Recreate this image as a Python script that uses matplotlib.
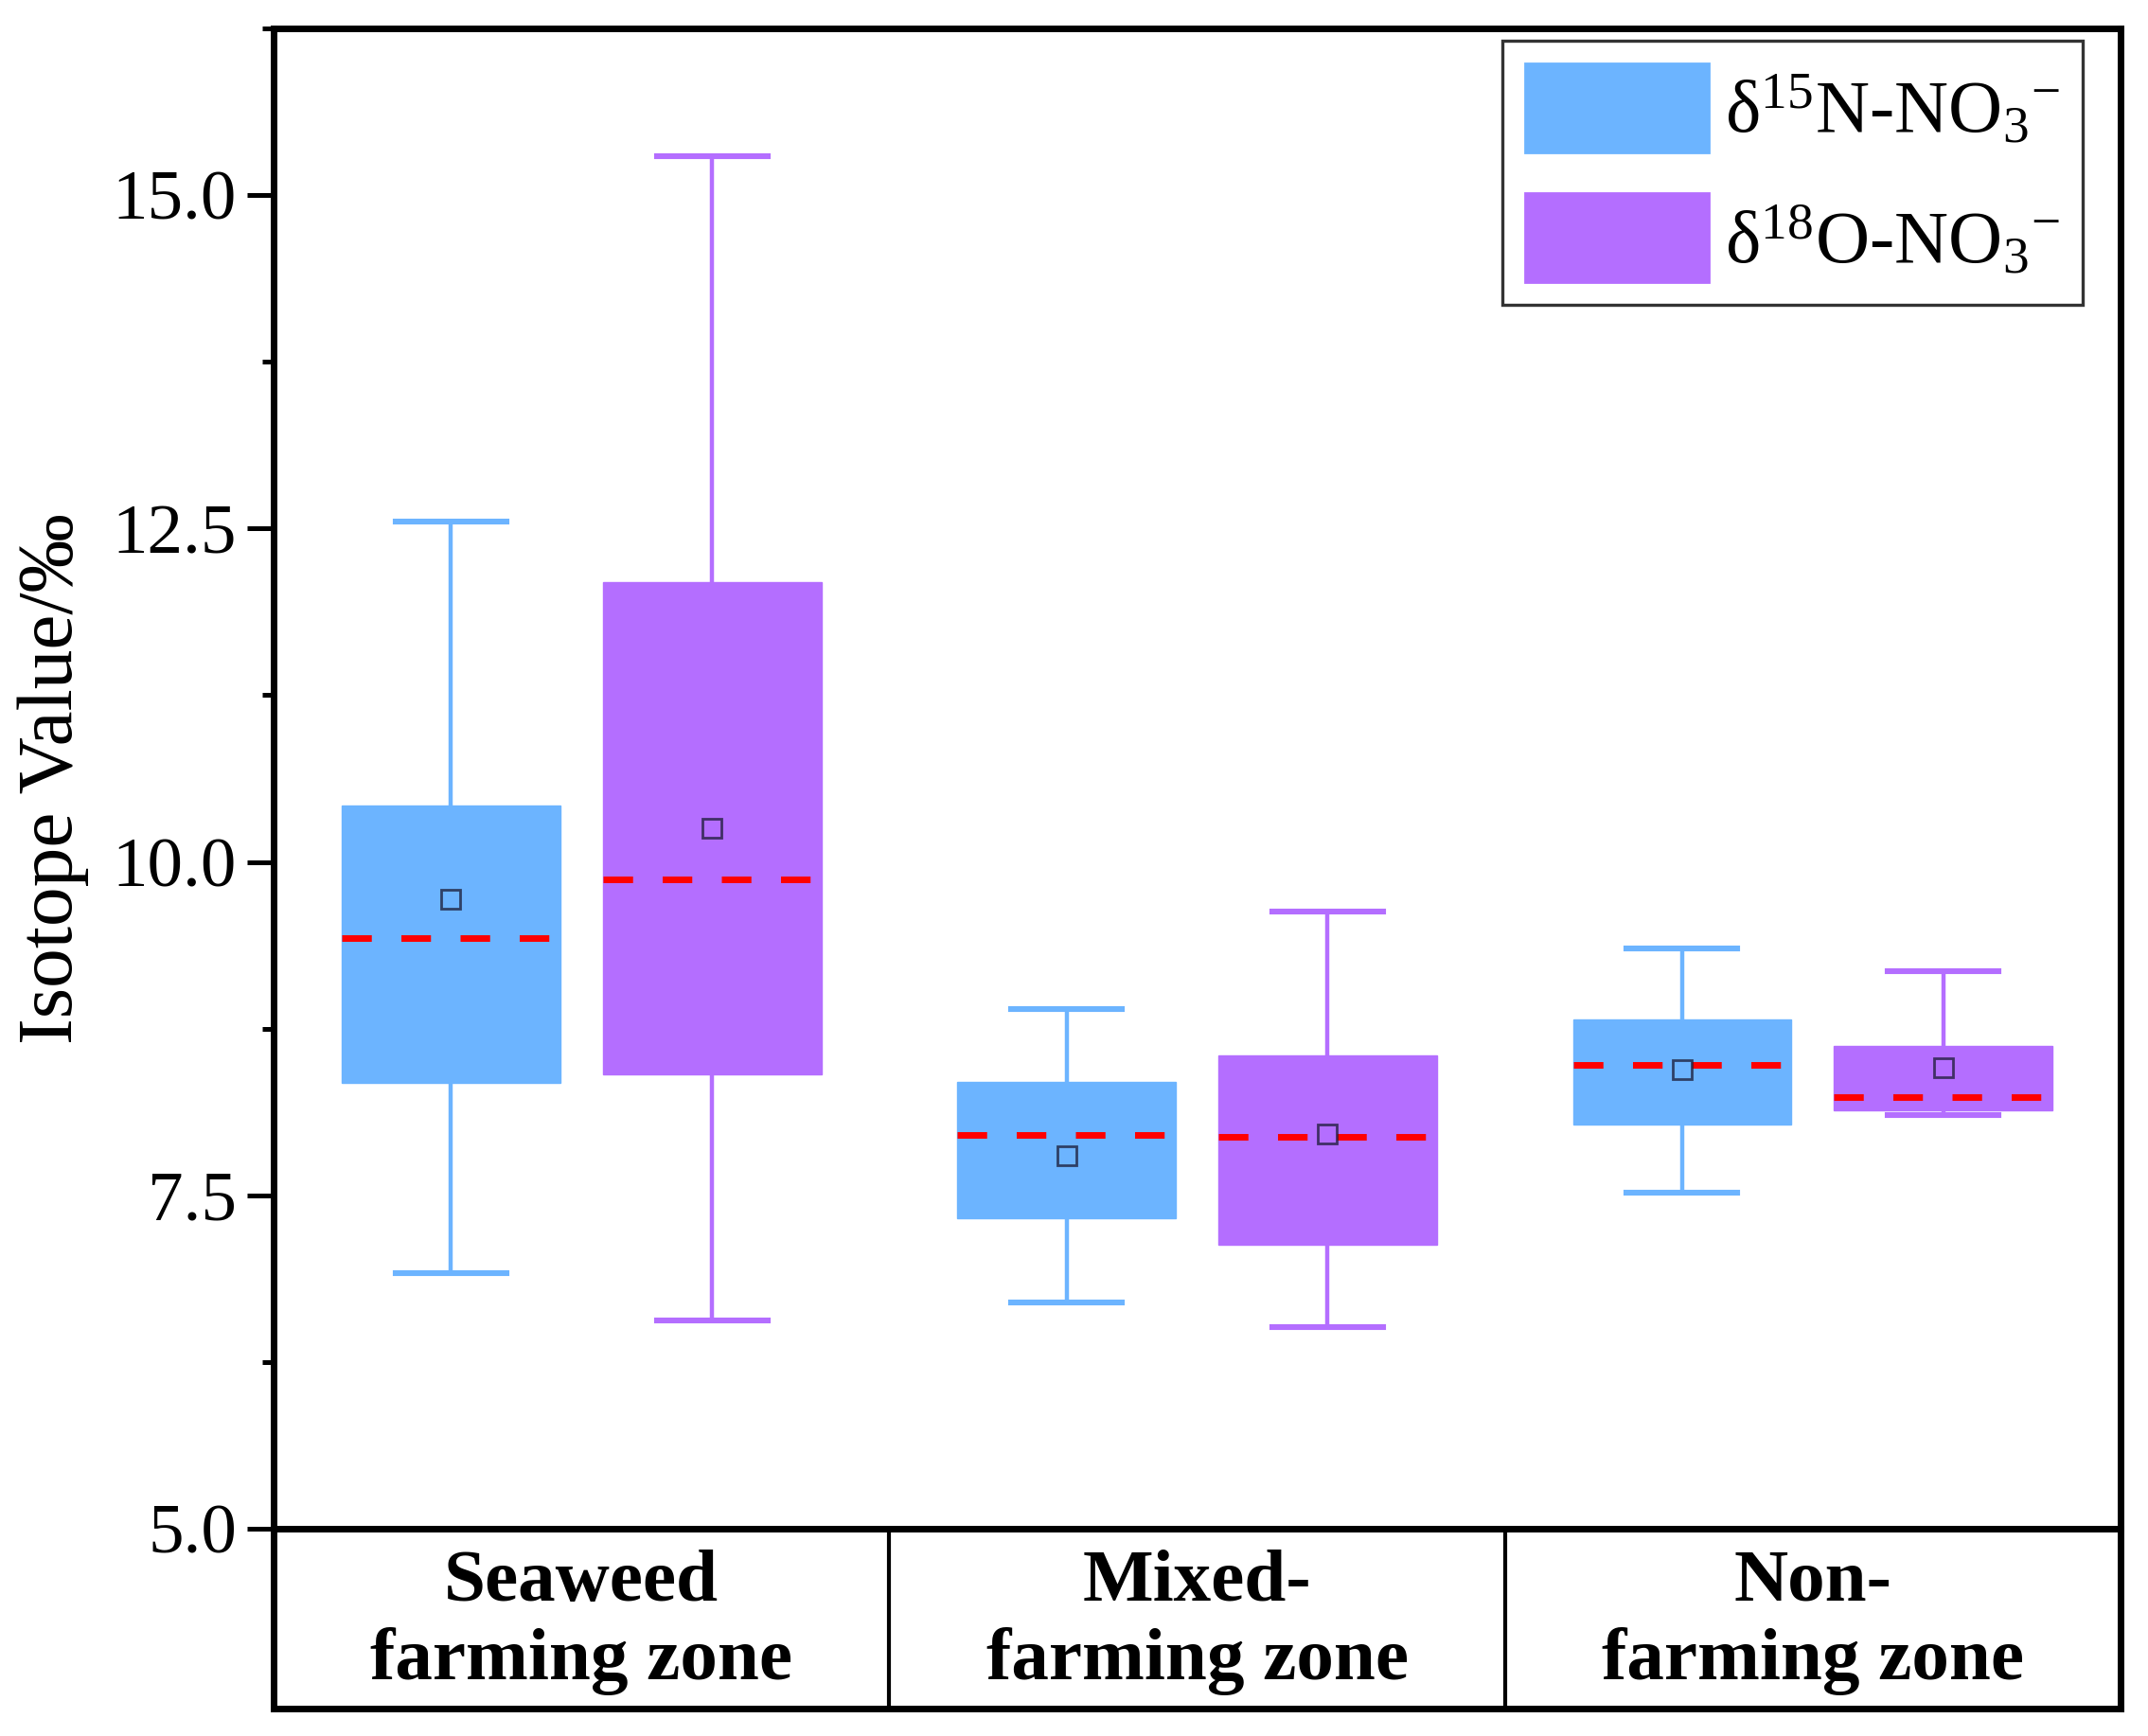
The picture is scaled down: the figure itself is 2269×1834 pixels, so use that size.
import matplotlib
matplotlib.use("Agg")
import matplotlib.pyplot as plt
from matplotlib.patches import Patch
from matplotlib.ticker import MultipleLocator, FormatStrFormatter

plt.rcParams['font.family'] = ['Liberation Serif', 'DejaVu Serif']
plt.rcParams['mathtext.fontset'] = 'custom'
plt.rcParams['mathtext.rm'] = 'Liberation Serif'
plt.rcParams['mathtext.it'] = 'Liberation Serif:italic'
plt.rcParams['mathtext.bf'] = 'Liberation Serif:bold'

# zones along the x axis
zones = ["Seaweed\nfarming zone", "Mixed-\nfarming zone", "Non-\nfarming zone"]

# d15N-NO3- box stats per zone
n_whislo = [6.92, 6.70, 7.52]
n_q1 = [8.34, 7.33, 8.03]
n_med = [9.43, 7.95, 8.48]
n_q3 = [10.42, 8.35, 8.82]
n_whishi = [12.55, 8.90, 9.35]
n_mean = [9.72, 7.80, 8.44]

# d18O-NO3- box stats per zone
o_whislo = [6.56, 6.51, 8.10]
o_q1 = [8.41, 7.13, 8.14]
o_med = [9.87, 7.94, 8.24]
o_q3 = [12.10, 8.55, 8.62]
o_whishi = [15.29, 9.63, 9.18]
o_mean = [10.25, 7.96, 8.46]

series_labels = [r"δ$^{15}$N-NO$_{3}$$^{-}$", r"δ$^{18}$O-NO$_{3}$$^{-}$"]
blue = "#6cb4ff"
purple = "#b46eff"


def make_stats(lo, q1, med, q3, hi, mean):
    return [dict(whislo=a, q1=b, med=c, q3=d, whishi=e, mean=f, fliers=[])
            for a, b, c, d, e, f in zip(lo, q1, med, q3, hi, mean)]


fig = plt.figure(figsize=(11.345, 9.17), dpi=200)
ax = fig.add_axes([0.1274, 0.1194, 0.8598, 0.8642])
tab = fig.add_axes([0.1274, 0.0158, 0.8598, 0.1036])

centers = [i + 0.5 for i in range(len(zones))]
offset = 0.212

for stats, col, sign in [(make_stats(n_whislo, n_q1, n_med, n_q3, n_whishi, n_mean), blue, -1),
                         (make_stats(o_whislo, o_q1, o_med, o_q3, o_whishi, o_mean), purple, 1)]:
    ax.bxp(stats, positions=[c + sign * offset for c in centers], widths=0.355,
           patch_artist=True, showmeans=True, showfliers=False, manage_ticks=False,
           capwidths=0.18,
           boxprops=dict(facecolor=col, edgecolor=col, linewidth=0.5),
           whiskerprops=dict(color=col, linewidth=1.6),
           capprops=dict(color=col, linewidth=2.2),
           medianprops=dict(color="red", linewidth=2.5, linestyle=(0, (4.5, 4.5))),
           meanprops=dict(marker="s", markerfacecolor="none",
                          markeredgecolor=(0.1, 0.1, 0.2, 0.75),
                          markersize=7, markeredgewidth=1.0))

ax.set_xlim(0, 3)
ax.set_ylim(5, 16.25)
ax.set_xticks([])
ax.yaxis.set_major_locator(MultipleLocator(2.5))
ax.yaxis.set_minor_locator(MultipleLocator(1.25))
ax.yaxis.set_major_formatter(FormatStrFormatter("%.1f"))
ax.tick_params(axis="y", which="major", direction="out", length=10, width=1.8,
               labelsize=27, pad=4)
ax.tick_params(axis="y", which="minor", direction="out", length=4.5, width=1.8)
for s in ax.spines.values():
    s.set_linewidth(2.5)
ax.set_ylabel("Isotope Value/‰", fontsize=30, labelpad=9)

handles = [Patch(facecolor=blue, edgecolor=blue), Patch(facecolor=purple, edgecolor=purple)]
leg = ax.legend(handles, series_labels, loc="upper right", bbox_to_anchor=(0.9795, 0.992),
                borderaxespad=0, fontsize=28.5, fancybox=False, edgecolor="#333333",
                framealpha=1, handlelength=2.45, handleheight=1.45, labelspacing=0.55,
                borderpad=0.3, handletextpad=0.22)
leg.get_frame().set_linewidth(1.2)

# category table under the plot
tab.set_xlim(0, 3)
tab.set_ylim(0, 1)
tab.set_xticks([])
tab.set_yticks([])
for s in tab.spines.values():
    s.set_linewidth(2.5)
for x in range(1, len(zones)):
    tab.axvline(x, color="black", linewidth=1.5)
for c, z in zip(centers, zones):
    tab.text(c, 0.48, z, ha="center", va="center", fontsize=28.5, fontweight="bold",
             linespacing=1.2)

fig.savefig("out.png", dpi=200)
